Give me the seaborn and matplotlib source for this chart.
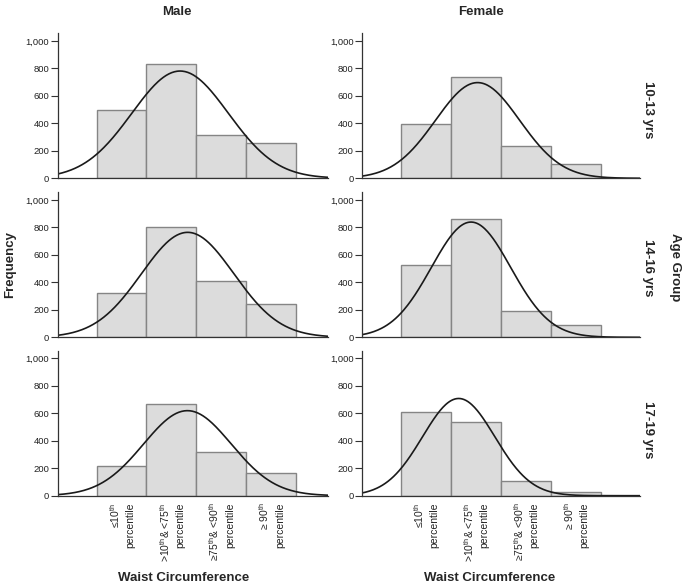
import numpy as np
import pandas as pd
import matplotlib
matplotlib.use("Agg")
import matplotlib.pyplot as plt
import seaborn as sns

# waist circumference groups (x positions 1..4)
positions = [1, 2, 3, 4]
tick_labels = [
    "≤10$^{th}$\npercentile",
    ">10$^{th}$& <75$^{th}$\npercentile",
    "≥75$^{th}$& <90$^{th}$\npercentile",
    "≥ 90$^{th}$\npercentile",
]
age_groups = ["10-13 yrs", "14-16 yrs", "17-19 yrs"]
sexes = ["Male", "Female"]

# frequencies
male_10_13 = [495, 828, 315, 255]
female_10_13 = [395, 734, 237, 102]
male_14_16 = [320, 801, 408, 245]
female_14_16 = [529, 864, 189, 87]
male_17_19 = [214, 667, 318, 167]
female_17_19 = [607, 539, 109, 27]

counts = {
    ("Male", "10-13 yrs"): male_10_13,
    ("Female", "10-13 yrs"): female_10_13,
    ("Male", "14-16 yrs"): male_14_16,
    ("Female", "14-16 yrs"): female_14_16,
    ("Male", "17-19 yrs"): male_17_19,
    ("Female", "17-19 yrs"): female_17_19,
}

sns.set_style("ticks")
plt.rcParams["font.family"] = ["Liberation Sans", "DejaVu Sans"]
plt.rcParams["mathtext.default"] = "regular"

fig = plt.figure(figsize=(6.85, 5.87), dpi=100)
W, H = 685, 587

# axes boxes in pixels: (left, right) per column, (top, bottom) per row
cols = {"Male": (57.7, 328, 5.14), "Female": (362, 640, 5.28)}
rows = [(33.3, 178.3), (192.5, 337.3), (350.7, 495.7)]

for r, age in enumerate(age_groups):
    for sex in sexes:
        x0, x1, xmax = cols[sex]
        top, bot = rows[r]
        ax = fig.add_axes([x0 / W, 1 - bot / H, (x1 - x0) / W, (bot - top) / H])
        vals = counts[(sex, age)]
        df = pd.DataFrame({"group": positions, "n": vals})
        sns.histplot(data=df, x="group", weights="n", discrete=True, ax=ax,
                     color="#dcdcdc", edgecolor="#858585", linewidth=1, alpha=1)

        # normal curve fitted to the grouped data
        v = np.array(vals, dtype=float)
        p = np.array(positions, dtype=float)
        n = v.sum()
        mu = (v * p).sum() / n
        sd = np.sqrt((v * (p - mu) ** 2).sum() / n)
        xs = np.linspace(-0.28, xmax, 300)
        ys = n / (sd * np.sqrt(2 * np.pi)) * np.exp(-0.5 * ((xs - mu) / sd) ** 2)
        sns.lineplot(x=xs, y=ys, ax=ax, color="#1a1a1a", lw=1.2)

        ax.set_xlim(-0.28, xmax)
        ax.set_ylim(0, 1055)
        ax.set_yticks([0, 200, 400, 600, 800, 1000])
        ax.set_yticklabels(["0", "200", "400", "600", "800", "1,000"])
        ax.tick_params(axis="y", labelsize=6.8, length=5, width=0.8, pad=1,
                       color="#333333", labelcolor="#222222")
        ax.set_xticks(positions)
        if r == 2:
            ax.set_xticklabels(tick_labels, rotation=90, fontsize=7.5, linespacing=1.45,
                               va="top", ha="center", ma="right", color="#222222")
            ax.tick_params(axis="x", length=0, pad=5)
        else:
            ax.set_xticklabels([])
            ax.tick_params(axis="x", length=0)
        ax.set_xlabel("")
        ax.set_ylabel("")
        for s in ["top", "right"]:
            ax.spines[s].set_visible(False)
        for s in ["left", "bottom"]:
            ax.spines[s].set_color("#333333")
            ax.spines[s].set_linewidth(0.9)

fs = 9.5
fig.text(177 / W, 1 - 12 / H, "Male", ha="center", va="center", fontsize=fs, fontweight="bold")
fig.text(481 / W, 1 - 12 / H, "Female", ha="center", va="center", fontsize=fs, fontweight="bold")
fig.text(184 / W, 1 - 578 / H, "Waist Circumference", ha="center", va="center", fontsize=fs, fontweight="bold")
fig.text(490 / W, 1 - 578 / H, "Waist Circumference", ha="center", va="center", fontsize=fs, fontweight="bold")
fig.text(10 / W, 1 - 265 / H, "Frequency", ha="center", va="center", rotation=90, fontsize=fs, fontweight="bold")
fig.text(648 / W, 1 - 110 / H, "10-13 yrs", ha="center", va="center", rotation=-90, fontsize=fs, fontweight="bold")
fig.text(648 / W, 1 - 268 / H, "14-16 yrs", ha="center", va="center", rotation=-90, fontsize=fs, fontweight="bold")
fig.text(675 / W, 1 - 267 / H, "Age Group", ha="center", va="center", rotation=-90, fontsize=fs, fontweight="bold")
fig.text(648 / W, 1 - 430 / H, "17-19 yrs", ha="center", va="center", rotation=-90, fontsize=fs, fontweight="bold")

fig.savefig("out.png", dpi=100)
